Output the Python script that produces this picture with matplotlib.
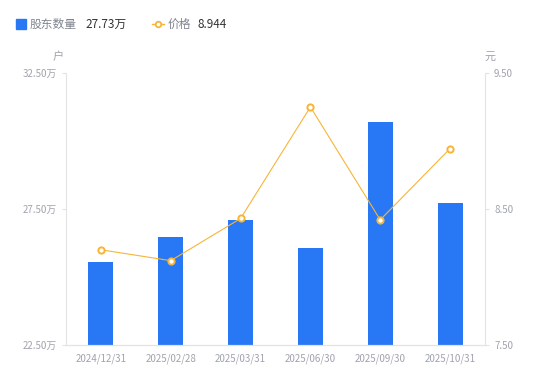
import matplotlib.pyplot as plt
from matplotlib.lines import Line2D
import numpy as np

plt.rcParams['font.family'] = ['Noto Sans CJK SC', 'DejaVu Sans']

dates = ["2024/12/31", "2025/02/28", "2025/03/31", "2025/06/30", "2025/09/30", "2025/10/31"]
holders = [25.55, 26.47, 27.10, 26.07, 30.70, 27.73]  # 万户
price = [8.20, 8.12, 8.43, 9.25, 8.42, 8.944]

bar_color = "#2878F5"
line_color = "#F7B538"
grid_gray = "#E3E3E3"
tick_gray = "#A0A3AD"

fig = plt.figure(figsize=(5.5, 3.81), dpi=100)
ax = fig.add_axes([0.12, 0.0945, 0.7618, 0.714])
ax2 = ax.twinx()

x = np.arange(len(dates))
ax.bar(x, holders, width=0.36, color=bar_color, zorder=2)
ax.set_xlim(-0.5, len(dates) - 0.5)
ax.set_ylim(22.5, 32.5)
ax.set_yticks([22.5, 27.5, 32.5])
ax.set_yticklabels([f"{v:.2f}万" for v in [22.5, 27.5, 32.5]])
ax.set_xticks(x)
ax.set_xticklabels(dates)

ax2.plot(x, price, color=line_color, lw=0.8, marker="o", ms=4.5,
         mfc="white", mec=line_color, mew=1.4, zorder=3)
ax2.set_ylim(7.5, 9.5)
ax2.set_yticks([7.5, 8.5, 9.5])
ax2.set_yticklabels([f"{v:.2f}" for v in [7.5, 8.5, 9.5]])

for a in (ax, ax2):
    for s in a.spines.values():
        s.set_color(grid_gray)
    a.spines["top"].set_visible(False)
    a.tick_params(colors=grid_gray, labelcolor=tick_gray, labelsize=7, length=3)
ax.tick_params(axis="x", length=0, pad=6)
ax2.spines["left"].set_visible(False)
ax.spines["right"].set_visible(False)

# unit labels
fig.text(58 / 550, 1 - 57 / 381, "户", fontsize=8, color=tick_gray, ha="center", va="center")
fig.text(490 / 550, 1 - 57 / 381, "元", fontsize=8, color=tick_gray, ha="center", va="center")

# legend
ly = 1 - 24 / 381
fig.add_artist(Line2D([21 / 550], [ly], marker="s", ms=6.5, color=bar_color,
                      transform=fig.transFigure))
fig.text(30 / 550, ly, "股东数量", fontsize=8.5, color="#80848F", va="center")
fig.text(85 / 550, ly, f"{holders[-1]:.2f}万", fontsize=8.5, color="#333333", va="center")
fig.add_artist(Line2D([152 / 550, 164 / 550], [ly, ly], color=line_color, lw=1,
                      transform=fig.transFigure))
fig.add_artist(Line2D([158 / 550], [ly], marker="o", ms=4, mfc="white", mec=line_color,
                      mew=1.3, transform=fig.transFigure))
fig.text(168 / 550, ly, "价格", fontsize=8.5, color="#80848F", va="center")
fig.text(198 / 550, ly, f"{price[-1]:.3f}", fontsize=8.5, color="#333333", va="center")

fig.savefig("out.png", dpi=100)
